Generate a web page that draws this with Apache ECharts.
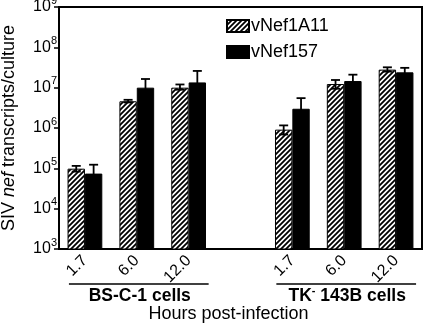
<!DOCTYPE html>
<html><head><meta charset="utf-8">
<script src="https://cdn.jsdelivr.net/npm/echarts@6/dist/echarts.min.js"></script>
<style>html,body{margin:0;padding:0;background:#fff}#c{width:425px;height:327px}</style>
</head><body><div id="c"></div>
<script>
// ---- data ----
const categories = ['1.7', '6.0', '12.0', '', '1.7', '6.0', '12.0'];
const seriesNames = ['vNef1A11', 'vNef157'];
const vNef1A11 = [9.8e4, 4.6e6, 1.0e7, null, 9.1e5, 1.23e7, 2.8e7];
const vNef1A11Lo = [8.3e4, 4.3e6, 8.9e6, null, 6.9e5, 9.4e6, 2.5e7];
const vNef1A11Hi = [1.15e5, 5.0e6, 1.2e7, null, 1.16e6, 1.55e7, 3.2e7];
const vNef157 = [7.4e4, 1.0e7, 1.35e7, null, 3.0e6, 1.46e7, 2.4e7];
const vNef157Lo = [4.5e4, 5.0e6, 7.0e6, null, 1.5e6, 1.0e7, 1.8e7];
const vNef157Hi = [1.23e5, 1.64e7, 2.6e7, null, 5.5e6, 2.1e7, 3.1e7];
const groupLabels = ['BS-C-1 cells', 'TK- 143B cells'];
const groupRanges = [[0, 2], [4, 6]];
const xTitle = 'Hours post-infection';

const FONT = '"Liberation Sans", Arial, sans-serif';
const gapRatio = 0.33;

// hatch pattern
const T = 5;
const cv = document.createElement('canvas');
cv.width = T; cv.height = T;
const cx = cv.getContext('2d');
cx.fillStyle = '#fff'; cx.fillRect(0, 0, T, T);
cx.strokeStyle = '#000'; cx.lineWidth = 1.8;
cx.beginPath();
cx.moveTo(-1, T + 1); cx.lineTo(T + 1, -1);
cx.moveTo(-1, 1); cx.lineTo(1, -1);
cx.moveTo(T - 1, T + 1); cx.lineTo(T + 1, T - 1);
cx.stroke();
const hatch = { image: cv, repeat: 'repeat' };

function toBar(arr) { return arr.map((v, i) => v == null ? '-' : [i, v]); }
function toErr(lo, hi) {
  const out = [];
  lo.forEach((v, i) => { if (v != null) out.push([i, v, hi[i]]); });
  return out;
}
function errRender(sign) {
  return function (params, api) {
    const c = api.value(0);
    const lo = api.value(1), hi = api.value(2);
    const bandW = api.size([1, 0])[0];
    const barW = bandW * (1 - gapRatio) / 2;
    const top = api.coord([c, hi]);
    const bot = api.coord([c, lo]);
    const x = top[0] + sign * barW / 2;
    const hw = 4.5;
    const st = { stroke: '#000', lineWidth: 1.8 };
    return {
      type: 'group',
      children: [
        { type: 'line', shape: { x1: x, y1: top[1], x2: x, y2: bot[1] }, style: st },
        { type: 'line', shape: { x1: x - hw, y1: top[1], x2: x + hw, y2: top[1] }, style: st },
        { type: 'line', shape: { x1: x - hw, y1: bot[1], x2: x + hw, y2: bot[1] }, style: st }
      ]
    };
  };
}

const chart = echarts.init(document.getElementById('c'), null, { renderer: 'canvas' });
chart.setOption({
  animation: false,
  textStyle: { fontFamily: FONT },
  grid: { left: 59, right: 3, top: 7, bottom: 78, containLabel: false, outerBoundsMode: 'none',
    show: true, borderColor: '#000', borderWidth: 2, backgroundColor: 'transparent' },
  legend: {
    orient: 'vertical', left: 226, top: 17, padding: 0, itemWidth: 22, itemHeight: 12, itemGap: 8,
    icon: 'rect',
    textStyle: { fontSize: 18, color: '#000', fontFamily: FONT, padding: [0, 0, 0, -3] },
    data: seriesNames
  },
  xAxis: {
    type: 'category', data: categories,
    axisLine: { lineStyle: { color: '#000', width: 2 } },
    axisTick: { show: false },
    axisLabel: { interval: 0, rotate: 45, fontSize: 16, color: '#000', margin: 9, fontFamily: FONT }
  },
  yAxis: {
    type: 'log', logBase: 10, min: 1e3, max: 1e9,
    splitLine: { show: false },
    axisLine: { show: true, lineStyle: { color: '#000', width: 2 } },
    axisTick: { show: true, length: 5, lineStyle: { color: '#000', width: 1.5 } },
    axisLabel: {
      margin: 2,
      formatter: v => '{b|10}{s|' + Math.round(Math.log10(v)) + '}',
      rich: {
        b: { fontSize: 16, color: '#000', lineHeight: 24, fontFamily: FONT },
        s: { fontSize: 11, color: '#000', lineHeight: 11, verticalAlign: 'top', fontFamily: FONT }
      }
    },
    name: '{a|SIV }{i|nef}{a| transcripts/culture}',
    nameLocation: 'middle', nameRotate: 90, nameGap: 41,
    nameTextStyle: {
      rich: {
        a: { fontSize: 18, color: '#000', fontFamily: FONT },
        i: { fontSize: 18, color: '#000', fontStyle: 'italic', fontFamily: FONT }
      }
    }
  },
  series: [
    { name: seriesNames[0], type: 'bar', data: toBar(vNef1A11), barGap: '0%', barCategoryGap: (gapRatio * 100) + '%',
      itemStyle: { color: hatch, borderColor: '#000', borderWidth: 1 } },
    { name: seriesNames[1], type: 'bar', data: toBar(vNef157),
      itemStyle: { color: '#000', borderColor: '#000', borderWidth: 1 } },
    { type: 'custom', renderItem: errRender(-1), data: toErr(vNef1A11Lo, vNef1A11Hi), z: 5 },
    { type: 'custom', renderItem: errRender(1), data: toErr(vNef157Lo, vNef157Hi), z: 5 }
  ]
});

// group annotations positioned through the axis
const gfx = [];
groupRanges.forEach((r, k) => {
  const x0 = chart.convertToPixel({ xAxisIndex: 0 }, r[0]) - 16;
  const x1 = chart.convertToPixel({ xAxisIndex: 0 }, r[1]) + 20;
  gfx.push({ type: 'line', shape: { x1: x0, y1: 284, x2: x1, y2: 284 }, style: { stroke: '#000', lineWidth: 1.5 } });
  const txt = k === 1 ? '{b|TK}{s|-}{b| 143B cells}' : '{b|' + groupLabels[k] + '}';
  gfx.push({
    type: 'text', x: (x0 + x1) / 2 + 1, y: 296,
    style: {
      text: txt, align: 'center', verticalAlign: 'middle',
      rich: {
        b: { fontSize: 17.5, fontWeight: 'bold', fill: '#000', fontFamily: FONT, lineHeight: 22 },
        s: { fontSize: 11, fontWeight: 'bold', fill: '#000', fontFamily: FONT, lineHeight: 11, verticalAlign: 'top' }
      }
    }
  });
});
gfx.push({
  type: 'text', x: 228.5, y: 314,
  style: { text: xTitle, align: 'center', verticalAlign: 'middle', fontSize: 18, fill: '#000', fontFamily: FONT }
});
chart.setOption({ graphic: gfx });
</script></body></html>
